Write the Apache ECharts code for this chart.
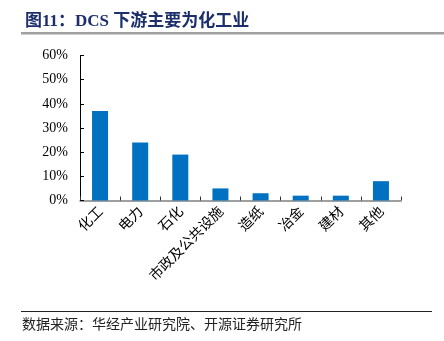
<!DOCTYPE html>
<html><head><meta charset="utf-8">
<script src="https://cdn.jsdelivr.net/npm/echarts@6/dist/echarts.min.js"></script>
<style>html,body{margin:0;padding:0;background:#fff}#c{width:444px;height:341px}</style>
</head><body><div id="c"></div>
<script>
const categories = ['化工','电力','石化','市政及公共设施','造纸','冶金','建材','其他'];
const values = [37, 24, 19, 5, 3, 2, 2, 8];
const titleText = '图11：DCS 下游主要为化工业';
const sourceText = '数据来源：华经产业研究院、开源证券研究所';

const chart = echarts.init(document.getElementById('c'), null, {renderer:'canvas'});
chart.setOption({
  animation: false,
  backgroundColor: '#fff',
  title: {
    text: titleText, left: 20, top: 8,
    textStyle: {fontFamily: '"Liberation Serif","Noto Sans CJK SC",serif', fontSize: 17, fontWeight: 'bold', color: '#1c2f6b'}
  },
  graphic: [
    {type:'rect', shape:{x:21, y:32, width:423, height:2.5}, style:{fill:'#a0a0a0'}},
    {type:'rect', shape:{x:21, y:311, width:411, height:1}, style:{fill:'#222'}},
    {type:'text', left:22, top:317, style:{text: sourceText, font:'14px "Noto Sans CJK SC", serif', fill:'#222'}}
  ],
  grid: {left: 80, right: 43, top: 55.5, bottom: 140.5, containLabel: false},
  xAxis: {
    type: 'category', data: categories,
    axisLine: {lineStyle: {color: '#808080', width: 1.5}},
    axisTick: {show: true, inside: true, length: 4, alignWithLabel: false, lineStyle: {color: '#333'}},
    axisLabel: {rotate: 45, interval: 0, margin: 8, fontSize: 14, color: '#000', fontFamily: '"Noto Sans CJK SC", serif'}
  },
  yAxis: {
    type: 'value', min: 0, max: 60, interval: 10,
    splitLine: {show: false},
    axisLine: {show: true, lineStyle: {color: '#000'}},
    axisTick: {show: true, inside: true, length: 4, lineStyle: {color: '#000'}},
    axisLabel: {formatter: '{value}%', margin: 12, fontSize: 14, color: '#000', fontFamily: '"Liberation Serif", serif'}
  },
  series: [{
    type: 'bar', data: values, barWidth: 16,
    itemStyle: {color: '#0070c0'}
  }]
});
</script></body></html>
